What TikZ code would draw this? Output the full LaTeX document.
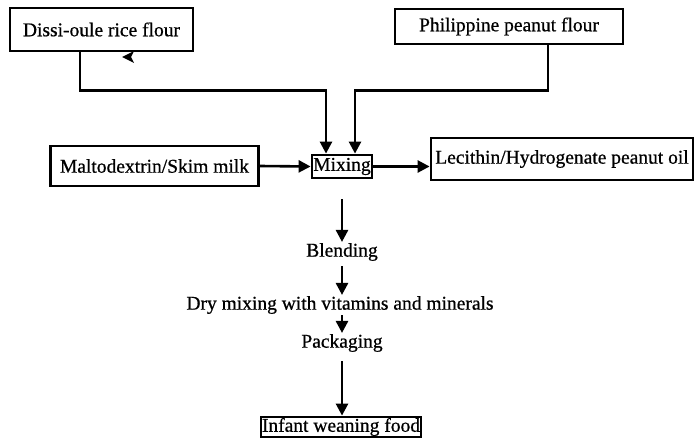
\documentclass[tikz,border=0pt]{standalone}
\usepackage{fontspec}
\setmainfont{Liberation Serif}[FakeBold=0.7]
\usetikzlibrary{arrows.meta,positioning}

\tikzset{
  procbox/.style={draw, line width=2.8pt, inner sep=0pt, align=center},
  steptext/.style={inner sep=1pt},
  arr/.style={line width=2.6pt, -{Triangle[length=12pt,width=12pt]}}
}

\begin{document}
\begin{tikzpicture}[x=1pt, y=-1pt, font=\fontsize{19.5}{22}\selectfont]
	\useasboundingbox (0,0) rectangle (696,439);
	
	% Boxes
	\node[procbox, minimum width=183pt, minimum height=43pt] (dissi) at (101.5,29.5) {Dissi-oule rice flour};
	\node[procbox, minimum width=228pt, minimum height=35pt] (phil) at (509,26.5) {Philippine peanut flour};
	\node[procbox, minimum width=208pt, minimum height=40pt] (malto) at (154.5,166) {Maltodextrin/Skim milk};
	\node[procbox, minimum width=60pt, minimum height=23pt] (mixing) at (342,166.5) {Mixing};
	\node[procbox, minimum width=160pt, minimum height=20pt] (infant) at (341,427) {Infant weaning food};
	\node[procbox, minimum width=262pt, minimum height=42pt] (lecithin) at (562,159) {Lecithin/Hydrogenate peanut oil};
	
	% Steps
	\node[steptext] (blend) at (342,252) {Blending};
	\node[steptext] (drymix) at (340,305) {Dry mixing with vitamins and minerals};
	\node[steptext] (pack) at (342,343) {Packaging};
	
	% Arrows
	\draw[arr] ([xshift=-21.5pt]dissi.south) -- ++(0,38) -| ([xshift=-16pt]mixing.north);
	\draw[arr] ([xshift=39pt]phil.south) -- ++(0,45) -| ([xshift=13pt]mixing.north);
	\draw[arr] (malto.east) -- (mixing.west);
	\draw[arr] (mixing.east) -- (lecithin.west |- mixing.east);
	\draw[arr] ([yshift=-20pt]mixing.south) -- (blend.north);
	\draw[arr] ([yshift=-4pt]blend.south) -- (blend.south |- drymix.north);
	\draw[arr] (blend.south |- drymix.south) -- (blend.south |- pack.north);
	\draw[arr] ([yshift=-8pt]pack.south) -- (pack.south |- infant.north);
	
	% stray tip
	\coordinate (tip) at (122,57);
	\fill (tip) -- (134,51) -- (131,57) -- (134,63) -- cycle;
\end{tikzpicture}
\end{document}
